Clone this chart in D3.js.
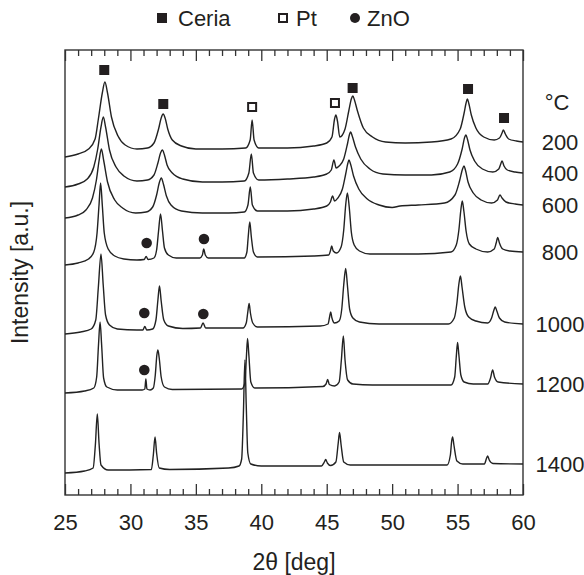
<!DOCTYPE html>
<html>
<head>
<meta charset="utf-8">
<script src="https://cdn.jsdelivr.net/npm/d3@7"></script>
<style>
  body { margin: 0; background: #fff; }
  text { font-family: "Liberation Sans", Arial, sans-serif; fill: #231f20; }
</style>
</head>
<body>
<svg id="chart" width="584" height="575"></svg>
<script>
// temperatures of the patterns, top to bottom
var temps = ["200", "400", "600", "800", "1000", "1200", "1400"];
var xTicks = [25, 30, 35, 40, 45, 50, 55, 60];

// patterns: [2theta, intensity a.u. (stacked)]
var t200 = [[25,338],[26,341],[26.8,346],[27.3,356],[27.55,376],[27.85,402],[28.05,413],[28.25,402],[28.55,378],[29.05,359],[29.6,350],[30.5,346],[31.3,347],[31.8,352],[32.15,366],[32.35,377],[32.5,381],[32.65,377],[32.85,366],[33.2,355],[33.9,349],[35,346],[37,346],[38.8,347],[39.15,355],[39.3,375],[39.45,355],[39.8,347],[42,347],[44,349],[45,352],[45.4,358],[45.6,376],[45.7,380],[45.82,374],[46,358],[46.4,366],[46.7,385],[46.88,396],[47,399],[47.12,395],[47.35,384],[47.8,367],[48.5,358],[49.5,353],[51,352],[53,353],[54.5,356],[55.2,366],[55.5,382],[55.65,392],[55.75,396],[55.85,392],[56.05,380],[56.4,367],[57,358],[57.8,355],[58.2,357],[58.4,362],[58.5,365],[58.65,361],[58.9,356],[59.5,354],[60,353]];
var t400 = [[25,308],[26,311],[26.7,316],[27.2,328],[27.5,346],[27.75,368],[27.93,378],[28.1,368],[28.4,345],[28.9,328],[29.5,319],[30.5,314],[31.3,315],[31.8,320],[32.1,332],[32.3,342],[32.44,345],[32.6,340],[32.8,330],[33.2,322],[34,316],[35.5,313],[37,313],[38.7,314],[39.05,322],[39.24,341],[39.4,322],[39.8,315],[42,316],[44,318],[45,321],[45.35,325],[45.55,335],[45.72,327],[45.95,329],[46.3,336],[46.6,352],[46.75,361],[46.83,363],[46.95,359],[47.2,348],[47.6,336],[48.3,326],[49.3,321],[51,320],[53,320],[54.4,323],[55,331],[55.35,346],[55.55,358],[55.64,360],[55.75,356],[55.95,345],[56.3,334],[56.9,326],[57.7,323],[58.15,326],[58.3,331],[58.4,334],[58.55,329],[58.8,325],[59.4,323],[60,322]];
var t600 = [[25,277],[26,280],[26.6,285],[27.1,297],[27.4,315],[27.6,334],[27.78,346],[27.95,335],[28.25,313],[28.8,295],[29.4,287],[30.4,282],[31.2,283],[31.7,288],[32,300],[32.2,312],[32.36,317],[32.52,311],[32.75,299],[33.1,290],[33.9,284],[35.5,282],[37.5,282],[38.7,283],[38.98,290],[39.16,308],[39.32,290],[39.7,284],[42,284],[44,286],[45,289],[45.28,293],[45.45,299],[45.6,294],[45.85,297],[46.2,306],[46.45,321],[46.62,332],[46.7,335],[46.82,331],[47.05,319],[47.45,306],[48.1,296],[49,290],[50,287.5],[50.6,289],[52,290],[54,292],[54.8,300],[55.15,314],[55.38,326],[55.49,329],[55.6,325],[55.8,313],[56.2,302],[56.8,295],[57.6,292],[58.05,295],[58.24,300],[58.4,297],[58.7,293],[59.4,291],[60,290]];
var t800 = [[25,230],[26,232],[26.8,236],[27.2,243],[27.45,262],[27.6,290],[27.72,312],[27.85,290],[28,262],[28.3,246],[28.8,239],[29.5,236],[30.5,235],[31.05,235.5],[31.2,238.5],[31.35,235.5],[31.8,237],[32,245],[32.15,264],[32.3,281],[32.45,264],[32.6,247],[32.9,240],[33.5,237],[35.3,237],[35.5,240],[35.6,246],[35.72,240],[35.95,237],[38.7,237],[38.9,243],[39,258],[39.12,273],[39.24,258],[39.4,243],[39.7,238],[44,239],[45.15,240],[45.3,245],[45.38,249],[45.5,244],[45.75,242],[46.1,248],[46.3,265],[46.45,290],[46.58,302],[46.72,288],[46.88,263],[47.1,250],[47.5,244],[48.3,241],[52,241],[54.5,243],[54.9,250],[55.1,265],[55.25,285],[55.36,294],[55.48,284],[55.65,264],[55.9,251],[56.4,246],[57.3,243],[57.8,246],[57.95,252],[58.07,257.5],[58.2,252],[58.45,246],[59,244],[60,243]];
var t1000 = [[25,161],[26.2,163],[27,166],[27.35,175],[27.55,208],[27.75,241],[27.92,210],[28.1,180],[28.4,170],[29,166],[30.5,165],[30.95,165],[31.1,168.5],[31.25,165],[31.7,166],[31.95,175],[32.1,195],[32.22,209],[32.35,194],[32.55,175],[32.9,169],[34,166.5],[35.35,167],[35.55,172],[35.75,167],[38.6,167],[38.85,172],[38.97,183],[39.07,191.5],[39.17,182],[39.35,172],[39.7,168],[44.5,169],[45.1,171],[45.22,178],[45.3,183],[45.4,177],[45.6,172],[45.95,174],[46.15,186],[46.3,210],[46.45,226.5],[46.58,210],[46.75,186],[47,177],[47.5,173],[49,171],[54.3,171],[54.75,177],[54.95,192],[55.1,211],[55.22,219],[55.34,208],[55.55,188],[55.85,178],[56.4,174],[57.3,172],[57.6,177],[57.78,185],[57.88,188],[58,184],[58.2,177],[58.6,173],[60,171]];
var t1200 = [[25,102],[26.5,104],[27.2,107],[27.42,118],[27.56,150],[27.68,173],[27.8,150],[27.95,117],[28.2,108],[29,105],[30.9,105],[31.1,106],[31.18,116],[31.26,106],[31.5,105],[31.75,107],[31.9,120],[32.02,140],[32.1,145],[32.2,137],[32.35,118],[32.6,108],[33.2,105.5],[38.5,106],[38.75,112],[38.87,140],[38.95,156.5],[39.05,140],[39.2,113],[39.5,107],[44.7,108.5],[44.95,111],[45.07,115.5],[45.2,110.5],[45.6,109],[45.95,113],[46.12,135],[46.27,159],[46.4,135],[46.6,115],[47,111],[48.5,110],[54.5,110],[54.78,118],[54.9,138],[55,152.5],[55.1,140],[55.25,120],[55.5,113],[56.2,111],[57.3,111],[57.52,117],[57.68,125],[57.82,118],[58.1,113],[60,111]];
var t1400 = [[25,22],[26.5,24],[27.15,27],[27.32,50],[27.47,81],[27.6,52],[27.75,30],[28.3,25],[31.6,25.5],[31.75,40],[31.88,58],[32,42],[32.2,27],[33,25.5],[37.5,27],[38.3,29],[38.5,36],[38.63,80],[38.75,135],[38.85,90],[38.97,42],[39.2,31],[40,29],[44.6,29],[44.82,33],[44.92,35.5],[45.05,32],[45.3,29.5],[45.7,33],[45.88,52],[45.98,62.5],[46.1,50],[46.3,33],[46.8,30],[54.2,30],[54.45,40],[54.55,54],[54.62,58],[54.72,50],[54.95,34],[55.4,31],[57.05,31],[57.22,37],[57.3,39],[57.42,35],[57.7,31.5],[60,31]];

var patterns = [t200, t400, t600, t800, t1000, t1200, t1400];

// phase markers: [2theta, intensity a.u.]
var ceriaMarks = [[28.0, 425], [32.51, 391], [46.98, 407], [55.8, 406], [58.55, 377]];
var ptMarks = [[39.3, 388], [45.63, 392]];
var znoMarks = [[31.24, 252], [35.62, 256], [31.06, 182], [35.57, 181], [31.06, 125]];

var svgWidth = 584;
var svgHeight = 575;
var margin = { top: 50, right: 61, bottom: 80, left: 65 };
var width = svgWidth - margin.left - margin.right;
var height = svgHeight - margin.top - margin.bottom;

var svg = d3.select("#chart");
var chartGroup = svg.append("g")
    .attr("transform", `translate(${margin.left}, ${margin.top})`);

var x = d3.scaleLinear().domain([25, 60]).range([0, width]);
var y = d3.scaleLinear().domain([0, 445]).range([height, 0]);

var minor = d3.range(25, 61, 1).filter(d => d % 5 !== 0);

// ticks, all pointing inward
chartGroup.append("g").attr("class", "ax")
    .attr("transform", `translate(0, ${height})`)
    .call(d3.axisBottom(x).tickValues(xTicks).tickSize(-11).tickPadding(19).tickFormat(d3.format("d")));
chartGroup.append("g").attr("class", "ax")
    .attr("transform", `translate(0, ${height})`)
    .call(d3.axisBottom(x).tickValues(minor).tickSize(-6).tickFormat(""));
chartGroup.append("g").attr("class", "ax")
    .call(d3.axisTop(x).tickValues(xTicks).tickSize(-11).tickFormat(""));
chartGroup.append("g").attr("class", "ax")
    .call(d3.axisTop(x).tickValues(minor).tickSize(-6).tickFormat(""));

chartGroup.selectAll(".ax .domain").remove();
chartGroup.selectAll(".ax line").attr("stroke", "#333").attr("stroke-width", 1.3);
chartGroup.selectAll(".ax text").attr("font-size", 22).attr("fill", "#231f20")
    .style("font-family", "'Liberation Sans', Arial, sans-serif");

chartGroup.append("rect")
    .attr("width", width).attr("height", height)
    .attr("fill", "none").attr("stroke", "#333").attr("stroke-width", 1.4);

var line = d3.line()
    .x(d => x(d[0]))
    .y(d => y(d[1]))
    .curve(d3.curveMonotoneX);

chartGroup.selectAll("path.pattern")
    .data(patterns)
    .enter()
    .append("path")
    .attr("class", "pattern")
    .attr("d", line)
    .attr("fill", "none")
    .attr("stroke", "#222")
    .attr("stroke-width", 1.4)
    .attr("stroke-linejoin", "round");

// markers
var sq = 10;
chartGroup.selectAll("rect.ceria")
    .data(ceriaMarks).enter().append("rect")
    .attr("x", d => x(d[0]) - sq / 2).attr("y", d => y(d[1]) - sq / 2)
    .attr("width", sq).attr("height", sq).attr("fill", "#231f20");
chartGroup.selectAll("rect.pt")
    .data(ptMarks).enter().append("rect")
    .attr("x", d => x(d[0]) - (sq - 2) / 2).attr("y", d => y(d[1]) - (sq - 2) / 2)
    .attr("width", sq - 2).attr("height", sq - 2)
    .attr("fill", "#fff").attr("stroke", "#231f20").attr("stroke-width", 2);
chartGroup.selectAll("circle.zno")
    .data(znoMarks).enter().append("circle")
    .attr("cx", d => x(d[0])).attr("cy", d => y(d[1])).attr("r", 5.3)
    .attr("fill", "#231f20");

// temperature labels at the right end of each pattern
chartGroup.selectAll("text.temp")
    .data(patterns).enter().append("text")
    .attr("x", width + 37)
    .attr("y", d => y(d[d.length - 1][1]))
    .attr("dy", "0.35em")
    .attr("text-anchor", "middle")
    .attr("font-size", 22)
    .text((d, i) => temps[i]);
chartGroup.append("text")
    .attr("x", width + 34).attr("y", y(t200[t200.length - 1][1]) - 40)
    .attr("dy", "0.35em").attr("text-anchor", "middle").attr("font-size", 22)
    .text("°C");

// axis titles
svg.append("text")
    .attr("x", margin.left + width / 2).attr("y", 570)
    .attr("text-anchor", "middle").attr("font-size", 23)
    .text("2θ [deg]");
svg.append("text")
    .attr("transform", `translate(28, ${margin.top + height / 2}) rotate(-90)`)
    .attr("text-anchor", "middle").attr("font-size", 23)
    .text("Intensity [a.u.]");

// legend
var legend = svg.append("g").attr("transform", "translate(0, 18)");
legend.append("rect").attr("x", 157).attr("y", -5).attr("width", 10).attr("height", 10).attr("fill", "#231f20");
legend.append("text").attr("x", 178).attr("dy", "0.35em").attr("font-size", 22).text("Ceria");
legend.append("rect").attr("x", 279).attr("y", -4).attr("width", 8).attr("height", 8)
    .attr("fill", "#fff").attr("stroke", "#231f20").attr("stroke-width", 2);
legend.append("text").attr("x", 296).attr("dy", "0.35em").attr("font-size", 22).text("Pt");
legend.append("circle").attr("cx", 355).attr("cy", 0).attr("r", 5).attr("fill", "#231f20");
legend.append("text").attr("x", 367).attr("dy", "0.35em").attr("font-size", 22).text("ZnO");
</script>
</body>
</html>
